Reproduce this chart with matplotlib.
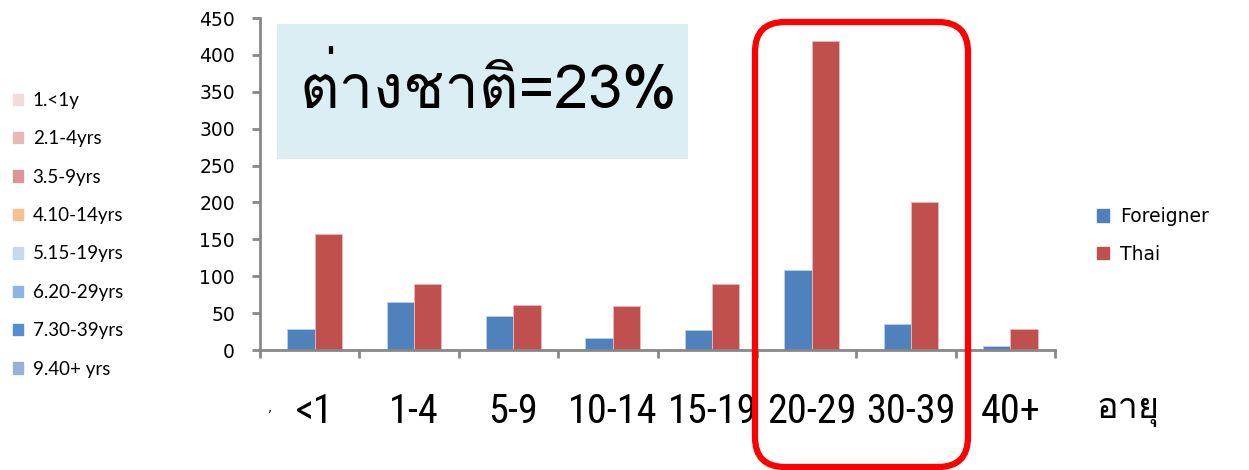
import matplotlib
matplotlib.use("Agg")
import matplotlib.pyplot as plt
import numpy as np
from matplotlib import font_manager
from matplotlib.ft2font import FT2Font
from matplotlib.patches import Patch, FancyBboxPatch, Rectangle

# data
categories = ["<1", "1-4", "5-9", "10-14", "15-19", "20-29", "30-39", "40+"]
foreigner = [29, 65, 46, 16, 27, 108, 35, 5]
thai = [157, 89, 61, 59, 89, 419, 201, 29]

left_labels = ["1.<1y", "2.1-4yrs", "3.5-9yrs", "4.10-14yrs", "5.15-19yrs",
               "6.20-29yrs", "7.30-39yrs", "9.40+ yrs"]
left_colors = ["#F2DCDB", "#E6B9B8", "#D99694", "#FAC090", "#C6D9F1",
               "#8EB4E3", "#558ED5", "#95B3D7"]

# find a font that has thai glyphs, if any
thai_font = None
for f in font_manager.fontManager.ttflist:
    try:
        if FT2Font(f.fname).get_char_index(0x0E15):
            thai_font = f.name
            break
    except Exception:
        pass
thai_family = ([thai_font] if thai_font else []) + ["Liberation Sans", "DejaVu Sans"]

# a narrow font for the big category labels, if there is one
names = {f.name for f in font_manager.fontManager.ttflist}
narrow = None
for n in ["Liberation Sans Narrow", "DejaVu Sans Condensed", "Roboto Condensed",
          "Open Sans Condensed", "Noto Sans Condensed"]:
    if n in names:
        narrow = n
        break
label_size = 29 if narrow else 25
narrow_family = ([narrow] if narrow else []) + ["Liberation Sans", "DejaVu Sans"]

fig = plt.figure(figsize=(12.49, 4.70), dpi=100)
ax = fig.add_axes([260/1249, 1-350/470, 795/1249, 332/470])

x = np.arange(len(categories))
w = 0.275
ax.bar(x - w/2, foreigner, w, color="#4F81BD", edgecolor="#BFD0E6", linewidth=0.6)
ax.bar(x + w/2, thai, w, color="#C0504D", edgecolor="#E8BBBA", linewidth=0.6)

ax.set_xlim(-0.55, 7.45)
ax.set_ylim(0, 450)
ax.set_yticks(np.arange(0, 451, 50))
ax.set_xticks(x)
ax.set_xticklabels(categories, fontsize=label_size, family=narrow_family)
ax.set_xticks(np.arange(9) - 0.55, minor=True)
ax.tick_params(axis="x", which="major", length=0, pad=30)
ax.tick_params(axis="x", which="minor", length=6, width=2, color="#888888", direction="out")
ax.tick_params(axis="y", length=6, width=2, color="#888888", labelsize=13.5, pad=12)
for s in ["top", "right"]:
    ax.spines[s].set_visible(False)
for s in ["left", "bottom"]:
    ax.spines[s].set_color("#888888")
    ax.spines[s].set_linewidth(2)

# axis label and stray mark
fig.text(1128/1249, 1-418/470, "อายุ", fontsize=26, family=thai_family,
         ha="center", va="baseline")
fig.text(270/1249, 1-412/470, ",", fontsize=9, ha="center", va="baseline")

# highlighted text box
fig.patches.append(Rectangle((2.77, 3.11), 4.11, 1.35, transform=fig.dpi_scale_trans,
                             facecolor="#DAEEF3", edgecolor="none", zorder=3))
fig.text(300/1249, 1-108/470, "ต่างชาติ=23%", fontsize=44, family=thai_family,
         ha="left", va="baseline", zorder=4)

# red rounded frame
fig.patches.append(FancyBboxPatch((7.55, 0.03), 2.13, 4.45, transform=fig.dpi_scale_trans,
                                  boxstyle="round,pad=0,rounding_size=0.3",
                                  facecolor="none", edgecolor="#FF0000", linewidth=4.5,
                                  zorder=5))

# right legend
handles = [Patch(color="#4F81BD", label="Foreigner"), Patch(color="#C0504D", label="Thai")]
fig.legend(handles=handles, loc="upper left", bbox_to_anchor=(1097/1249, 1-207/470),
           frameon=False, fontsize=13.5, handlelength=0.65, handleheight=0.65,
           handletextpad=0.6, labelspacing=1.0, borderaxespad=0, borderpad=0)

# left legend
lhandles = [Patch(color=c, label=l) for c, l in zip(left_colors, left_labels)]
fig.legend(handles=lhandles, loc="upper left", bbox_to_anchor=(13/1249, 1-92/470),
           frameon=False, prop={"family": ["Lato", "DejaVu Sans"], "size": 13.5},
           handlelength=0.55, handleheight=0.55, handletextpad=0.5,
           labelspacing=1.14, borderaxespad=0, borderpad=0)

fig.savefig("out.png", dpi=100)
